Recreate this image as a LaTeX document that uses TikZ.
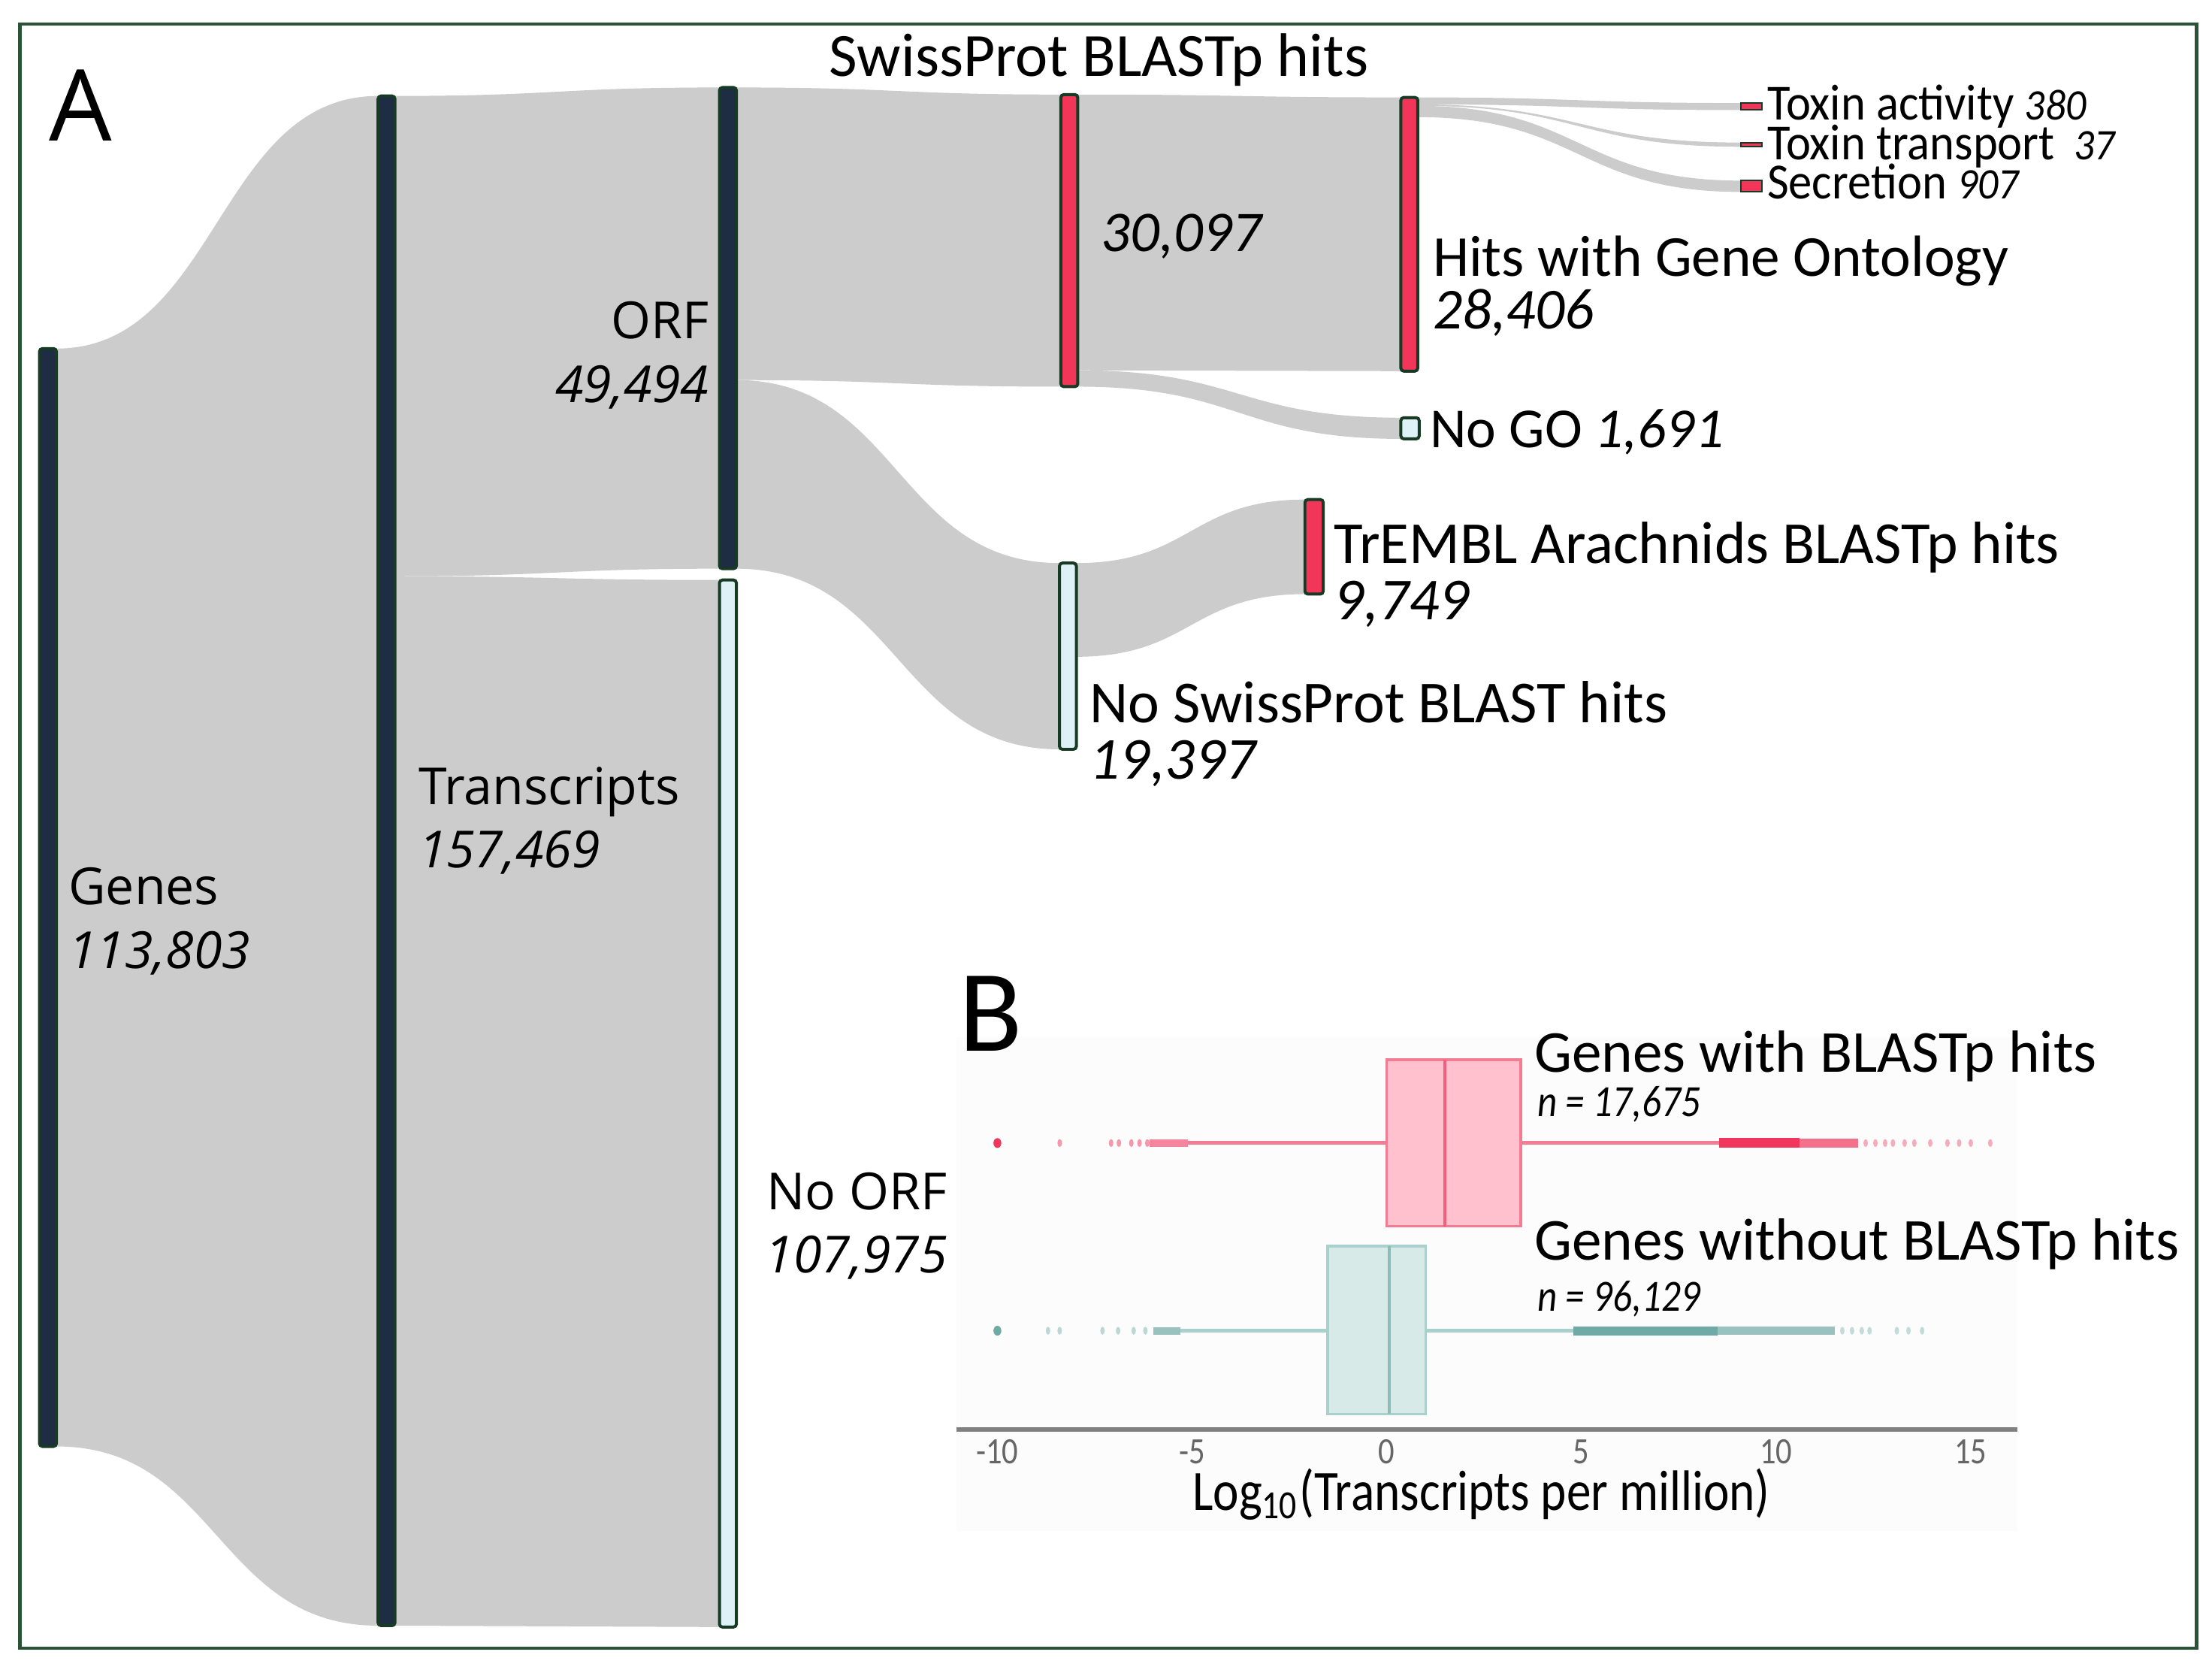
\documentclass[tikz,border=0pt]{standalone}
\usepackage{fontspec}
\setmainfont{Open Sans}
\newfontfamily\calfont{Carlito}
\newfontfamily\condfont[FakeStretch=0.86]{Carlito}
\newfontfamily\toxfont[FakeStretch=0.93]{Carlito}
\newcommand{\toxnum}{\toxfont\itshape\fontsize{8.8}{9}\selectfont}
\usepackage{xcolor}
\usetikzlibrary{positioning, calc, backgrounds}

\definecolor{navy}{HTML}{1F2D44}
\definecolor{hitred}{HTML}{F2365A}
\definecolor{pale}{HTML}{DDF1F6}
\definecolor{barline}{HTML}{163A24}
\definecolor{flowgrey}{HTML}{CCCCCC}
\definecolor{framegreen}{HTML}{2A5236}
\definecolor{pinkbox}{HTML}{FFC1CD}
\definecolor{pinkline}{HTML}{F27C94}
\definecolor{pinkdot}{HTML}{F0365C}
\definecolor{tealbox}{HTML}{D8EAE8}
\definecolor{tealline}{HTML}{A9D0CC}
\definecolor{tealdot}{HTML}{6FAAA6}

% sankey band between two bars: src top, tgt top, tgt bottom, src bottom
\newcommand{\flow}[4]{%
  \coordinate (fa) at ($(#1)!0.5!(#2)$);
  \coordinate (fb) at ($(#4)!0.5!(#3)$);
  \fill[flowfill] (#1) .. controls (fa |- #1) and (fa |- #2) .. (#2)
    -- (#3) .. controls (fb |- #3) and (fb |- #4) .. (#4) -- cycle;
}

\begin{document}
\begin{tikzpicture}[
   flowbar/.style = {draw=barline, line width=0.6pt, rounded corners=0.6pt, minimum width=0.12cm, inner sep=0, outer sep=0, anchor=north west},
   darkbar/.style = {flowbar, fill=navy},
   redbar/.style = {flowbar, fill=hitred},
   palebar/.style = {flowbar, fill=pale},
   tinybar/.style = {minimum width=0.15cm, line width=0.3pt, rounded corners=0pt},
   flowfill/.style = {fill=flowgrey},
   seglbl/.style = {inner sep=0, align=left, anchor=base west, font=\fontsize{10.3}{12.8}\selectfont},
   callbl/.style = {inner sep=0, align=left, anchor=base west, font=\calfont\fontsize{12}{11.4}\selectfont},
   toxlbl/.style = {inner sep=0, anchor=base west, text height=0.62em, text depth=0.05em, font=\toxfont\fontsize{10.2}{10.5}\selectfont},
   boxlbl/.style = {inner sep=0, anchor=base west, font=\calfont\fontsize{12}{13}\selectfont},
   nlbl/.style = {inner sep=0, anchor=base west, font=\condfont\itshape\fontsize{9}{10}\selectfont},
   ticklbl/.style = {inner sep=0, anchor=base, text=black!60, font=\condfont\fontsize{7.5}{8}\selectfont},
   bigdot/.style = {x radius=0.028cm, y radius=0.035cm},
   smalldot/.style = {x radius=0.016cm, y radius=0.028cm}
   ]
  \useasboundingbox (0,0) rectangle (15.68,-11.83);
  \draw[framegreen, line width=0.7pt] (0.14,-0.17) rectangle (15.57,-11.68);

  % panel letters
  \node[inner sep=0, anchor=base west, font=\fontsize{20}{22}\selectfont] (panela) at (0.34,-1.00) {A};
  \node[inner sep=0, anchor=base west, font=\calfont\fontsize{23.5}{25}\selectfont] (panelb) at (6.79,-7.45) {B};

  % bars
  \node[darkbar, minimum height=7.78cm] (genes) at (0.28,-2.47) {};
  \node[darkbar, minimum height=10.84cm] (trans) at (2.68,-0.68) {};
  \node[darkbar, minimum height=3.41cm] (orf) at (5.10,-0.62) {};
  \node[palebar, minimum height=7.42cm] (noorf) at (5.10,-4.11) {};
  \node[redbar, minimum height=2.07cm] (swiss) at (7.52,-0.67) {};
  \node[palebar, minimum height=1.32cm] (noswiss) at (7.51,-3.99) {};
  \node[redbar, minimum height=1.94cm] (hitsgo) at (9.93,-0.69) {};
  \node[palebar, minimum width=0.13cm, minimum height=0.15cm] (nogo) at (9.93,-2.96) {};
  \node[redbar, minimum width=0.13cm, minimum height=0.67cm] (trembl) at (9.25,-3.54) {};
  \node[redbar, tinybar, minimum height=0.05cm] (toxact) at (12.34,-0.73) {};
  \node[redbar, tinybar, minimum height=0.03cm] (toxtra) at (12.34,-1.01) {};
  \node[redbar, tinybar, minimum height=0.08cm] (secr) at (12.34,-1.28) {};

  % split points on the bars
  \coordinate (transsplit) at ($(trans.north east)!0.314!(trans.south east)$);
  \coordinate (orfsplit) at ($(orf.north east)!0.608!(orf.south east)$);
  \coordinate (swisssplit) at ($(swiss.north east)!0.944!(swiss.south east)$);
  \coordinate (noswisssplit) at ($(noswiss.north east)!0.503!(noswiss.south east)$);
  \coordinate (go1) at ($(hitsgo.north east)+(0,-0.05)$);
  \coordinate (go2) at ($(hitsgo.north east)+(0,-0.06)$);
  \coordinate (go3) at ($(hitsgo.north east)+(0,-0.14)$);

  % flows
  \begin{scope}[on background layer]
   \fill[black!1] (6.78,-7.35) rectangle (14.30,-10.85);
   \flow{genes.north east}{trans.north west}{trans.south west}{genes.south east}
   \flow{trans.north east}{orf.north west}{orf.south west}{transsplit}
   \flow{transsplit}{noorf.north west}{noorf.south west}{trans.south east}
   \flow{orf.north east}{swiss.north west}{swiss.south west}{orfsplit}
   \flow{orfsplit}{noswiss.north west}{noswiss.south west}{orf.south east}
   \flow{swiss.north east}{hitsgo.north west}{hitsgo.south west}{swisssplit}
   \flow{swisssplit}{nogo.north west}{nogo.south west}{swiss.south east}
   \flow{noswiss.north east}{trembl.north west}{trembl.south west}{noswisssplit}
   \flow{hitsgo.north east}{toxact.north west}{toxact.south west}{go1}
   \flow{go1}{toxtra.north west}{toxtra.south west}{go2}
   \flow{go2}{secr.north west}{secr.south west}{go3}
  \end{scope}

  % labels (anchored on the baseline of the last line)
  \node[seglbl] (geneslbl) at (0.48,-6.86) {Genes\\\textit{113,803}};
  \node[seglbl] (translbl) at (2.96,-6.15) {Transcripts\\\textit{157,469}};
  \node[seglbl, anchor=base east, align=right] (orflbl) at (5.03,-2.85) {ORF\\\textit{49,494}};
  \node[seglbl, anchor=base east, align=right] (noorflbl) at (6.72,-9.02) {No ORF\\\textit{107,975}};
  \node[callbl, anchor=base, font=\calfont\fontsize{12.4}{13}\selectfont] (swisstitle) at (7.79,-0.54) {SwissProt BLASTp hits};
  \node[callbl, font=\calfont\fontsize{11.6}{12}\selectfont] (swisslbl) at (7.80,-1.78) {\textit{30,097}};
  \node[callbl, font=\calfont\fontsize{11.7}{10.6}\selectfont] (hitsgolbl) at (10.15,-2.33) {Hits with Gene Ontology\\\textit{28,406}};
  \node[callbl, font=\calfont\fontsize{11.4}{12}\selectfont] (nogolbl) at (10.13,-3.17) {No GO \textit{1,691}};
  \node[callbl] (trembllbl) at (9.45,-4.39) {TrEMBL Arachnids BLASTp hits\\\textit{9,749}};
  \node[callbl] (noswisslbl) at (7.72,-5.52) {No SwissProt BLAST hits\\\textit{19,397}};
  \node[toxlbl] (toxactlbl) at (12.52,-0.85) {Toxin activity {\toxnum 380}};
  \node[toxlbl] (toxtralbl) at (12.52,-1.13) {Toxin transport\, {\toxnum 37}};
  \node[toxlbl] (secrlbl) at (12.52,-1.41) {Secretion {\toxnum 907}};

  % box plots, x in log10 TPM
  \begin{scope}[xshift=9.83cm, x=0.276cm]
   \draw[black!50, line width=1pt] (-11.05,-10.13) -- (16.2,-10.13);
   \foreach \v in {-10,-5,0,5,10,15}
     \node[ticklbl] at (\v,-10.37) {\v};
   % with hits
   \draw[pinkline, line width=0.8pt] (-5.1,-8.10) -- (0,-8.10) (3.44,-8.10) -- (8.54,-8.10);
   \fill[pinkdot] (-10,-8.10) ellipse [bigdot];
   \foreach \v in {-8.4,-7.08,-6.88,-6.56,-6.35,-6.15}
     \fill[pinkdot, opacity=0.5] (\v,-8.10) ellipse [smalldot];
   \draw[pinkdot, opacity=0.6, line width=1.6pt] (-6.1,-8.10) -- (-5.1,-8.10);
   \draw[pinkdot, line width=2pt] (8.54,-8.10) -- (10.6,-8.10);
   \draw[pinkdot, opacity=0.7, line width=1.8pt] (10.6,-8.10) -- (12.1,-8.10);
   \foreach \v in {12.3,12.55,12.8,13.0,13.3,13.55,13.96,14.4,14.7,15.0,15.5}
     \fill[pinkdot, opacity=0.4] (\v,-8.10) ellipse [smalldot];
   \filldraw[fill=pinkbox, draw=pinkline, line width=0.5pt] (0,-7.51) rectangle (3.44,-8.69);
   \draw[pinkdot!80, line width=0.6pt] (1.5,-7.51) -- (1.5,-8.69);
   % without hits
   \draw[tealline, line width=0.8pt] (-5.3,-9.43) -- (-1.52,-9.43) (1.0,-9.43) -- (4.8,-9.43);
   \fill[tealdot] (-10,-9.43) ellipse [bigdot];
   \foreach \v in {-8.7,-8.4,-7.3,-6.9,-6.5,-6.2}
     \fill[tealdot, opacity=0.45] (\v,-9.43) ellipse [smalldot];
   \draw[tealdot, opacity=0.7, line width=1.5pt] (-6.0,-9.43) -- (-5.3,-9.43);
   \draw[tealdot, line width=1.8pt] (4.8,-9.43) -- (8.5,-9.43);
   \draw[tealdot, opacity=0.7, line width=1.6pt] (8.5,-9.43) -- (11.5,-9.43);
   \foreach \v in {11.7,11.95,12.2,12.4,13.1,13.4,13.75}
     \fill[tealdot, opacity=0.4] (\v,-9.43) ellipse [smalldot];
   \filldraw[fill=tealbox, draw=tealline, line width=0.5pt] (-1.52,-8.83) rectangle (1.0,-10.02);
   \draw[tealdot!80, line width=0.6pt] (0.06,-8.83) -- (0.06,-10.02);
  \end{scope}

  \node[boxlbl] (withlbl) at (10.87,-7.60) {Genes with BLASTp hits};
  \node[nlbl] (withn) at (10.89,-7.91) {n = 17,675};
  \node[boxlbl] (withoutlbl) at (10.87,-8.93) {Genes without BLASTp hits};
  \node[nlbl] (withoutn) at (10.89,-9.29) {n = 96,129};
  \node[inner sep=0, anchor=base, font=\condfont\fontsize{11.5}{12}\selectfont] (axislbl) at (10.50,-10.70) {Log\textsubscript{10}(Transcripts per million)};
\end{tikzpicture}
\end{document}
